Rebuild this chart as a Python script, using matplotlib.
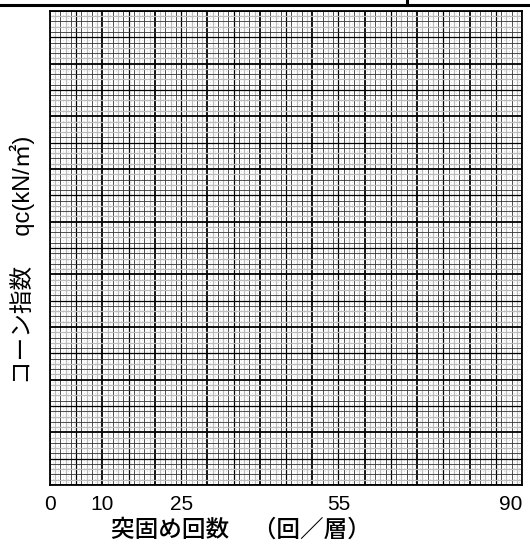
import numpy as np
import matplotlib.pyplot as plt

plt.rcParams['font.family'] = ['Liberation Sans', 'Noto Sans CJK JP', 'DejaVu Sans']

# axis settings
x_ticks = [0, 10, 25, 55, 90]
x_max = 90
y_max = 90

fig = plt.figure(figsize=(5.30, 5.47), dpi=100)
ax = fig.add_axes([0.0943, 0.1133, 0.8907, 0.8667])


def line_style(v):
    if v % 10 == 0:
        return 'black', 1.3
    if v % 5 == 0:
        return 'black', 0.9
    if v % 2 == 0:
        return '#333333', 0.6
    return '#bbbbbb', 0.9


# graph paper grid
for v in np.arange(0, x_max + 1):
    c, lw = line_style(v)
    ax.axvline(v, color=c, lw=lw, zorder=1)
for v in np.arange(0, y_max + 1):
    c, lw = line_style(v)
    ax.axhline(v, color=c, lw=lw, zorder=1)
for v in np.arange(0.5, x_max, 1):
    ax.axvline(v, color='#bbbbbb', lw=0.5, ls=(0, (1, 3)), zorder=0)

ax.set_xlim(0, x_max)
ax.set_ylim(0, y_max)
ax.set_xticks(x_ticks)
ax.set_xticklabels([str(t) for t in x_ticks], fontsize=15)
ax.get_xticklabels()[-1].set_horizontalalignment('right')
ax.get_xticklabels()[-1].set_x(ax.get_xticks()[-1] + 1.0)
ax.set_yticks([])
ax.tick_params(axis='x', length=0, pad=7)
for s in ax.spines.values():
    s.set_linewidth(1.3)

fig.text(0.042, 0.525, 'コーン指数　 qc(kN/㎡)', rotation=90, fontsize=17,
         ha='center', va='center')
fig.text(0.455, 0.031, '突固め回数　（回／層）', fontsize=17,
         ha='center', va='center', fontweight='medium')

# header rule at the top of the sheet
fig.add_artist(plt.Line2D([0, 1], [0.990, 0.990], color='black', lw=2.2))
fig.add_artist(plt.Line2D([0.768, 0.768], [0.990, 1.0], color='black', lw=2.2))

fig.savefig('out.png', dpi=100)
